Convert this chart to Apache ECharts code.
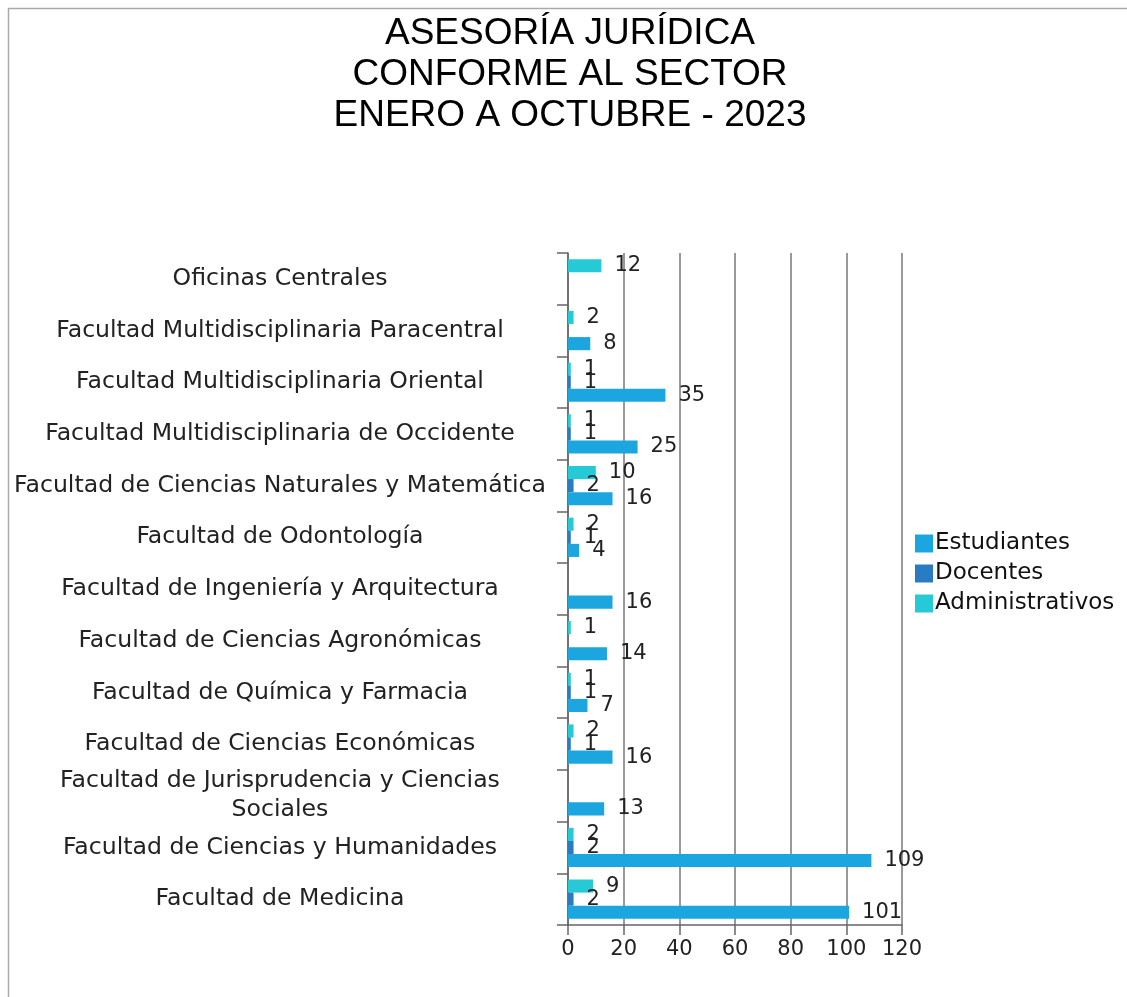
<!DOCTYPE html>
<html>
<head>
<meta charset="utf-8">
<script src="https://cdn.jsdelivr.net/npm/echarts@6/dist/echarts.min.js"></script>
<style>
  html, body { margin: 0; padding: 0; background: #fff; }
  #main { width: 1127px; height: 997px; }
</style>
</head>
<body>
<div id="main"></div>
<script>
// categorias de abajo hacia arriba (el eje y de ECharts empieza abajo)
var categorias = [
    'Facultad de Medicina',
    'Facultad de Ciencias y Humanidades',
    'Facultad de Jurisprudencia y Ciencias\nSociales',
    'Facultad de Ciencias Económicas',
    'Facultad de Química y Farmacia',
    'Facultad de Ciencias Agronómicas',
    'Facultad de Ingeniería y Arquitectura',
    'Facultad de Odontología',
    'Facultad de Ciencias Naturales y Matemática',
    'Facultad Multidisciplinaria de Occidente',
    'Facultad Multidisciplinaria Oriental',
    'Facultad Multidisciplinaria Paracentral',
    'Oficinas Centrales'
];
var estudiantes = [101, 109, 13, 16, 7, 14, 16, 4, 16, 25, 35, 8, null];
var docentes = [2, 2, null, 1, 1, null, null, 1, 2, 1, 1, null, null];
var administrativos = [9, 2, null, 2, 1, 1, null, 2, 10, 1, 1, 2, 12];
var ticksX = [0, 20, 40, 60, 80, 100, 120];

var fuente = '"DejaVu Sans", sans-serif';

var myChart = echarts.init(document.getElementById('main'));

function serie(nombre, datos, color) {
    return {
        name: nombre,
        type: 'bar',
        data: datos,
        barGap: '0%',
        barCategoryGap: '24%',
        itemStyle: {color: color},
        label: {
            show: true,
            position: 'right',
            distance: 13,
            color: '#222',
            fontSize: 21,
            fontFamily: fuente
        }
    };
}

var option = {
    animation: false,
    title: {
        text: 'ASESORÍA JURÍDICA\nCONFORME AL SECTOR\nENERO A OCTUBRE - 2023',
        left: 565,
        textAlign: 'center',
        top: 8,
        textStyle: {
            fontFamily: '"Liberation Sans", Arial, sans-serif',
            fontSize: 37,
            fontWeight: 'normal',
            color: '#000',
            lineHeight: 41
        }
    },
    legend: {
        orient: 'vertical',
        left: 910,
        top: 527,
        itemWidth: 18,
        itemHeight: 18,
        itemGap: 7,
        icon: 'rect',
        textStyle: {fontFamily: fuente, fontSize: 23, color: '#111', padding: [0, 0, 0, -3]},
        data: ['Estudiantes', 'Docentes', 'Administrativos']
    },
    grid: {
        left: 568,
        right: 225,
        top: 253,
        bottom: 72,
        containLabel: false
    },
    xAxis: {
        type: 'value',
        min: 0,
        max: 120,
        interval: 20,
        axisLine: {show: true, lineStyle: {color: '#666', width: 1.5}},
        axisTick: {show: true, length: 10, lineStyle: {color: '#666', width: 1.5}},
        splitLine: {show: true, lineStyle: {color: '#777', width: 1.5}},
        axisLabel: {
            fontFamily: fuente,
            fontSize: 21,
            color: '#222',
            margin: 14,
            formatter: function (v) { return ticksX.indexOf(v) >= 0 ? String(v) : ''; }
        }
    },
    yAxis: {
        type: 'category',
        data: categorias,
        axisLine: {show: true, lineStyle: {color: '#666', width: 1.5}},
        axisTick: {show: true, length: 11, lineStyle: {color: '#666', width: 1.5}},
        axisLabel: {
            fontFamily: fuente,
            fontSize: 23.6,
            color: '#222',
            align: 'center',
            margin: 288,
            lineHeight: 29
        }
    },
    // orden invertido para que Estudiantes quede abajo en cada grupo
    series: [
        serie('Administrativos', administrativos, '#26C9D6'),
        serie('Docentes', docentes, '#2A7CC2'),
        serie('Estudiantes', estudiantes, '#1CA6DF')
    ],
    graphic: [{
        type: 'polyline',
        shape: {points: [[8.5, 997], [8.5, 8.5], [1127, 8.5]]},
        style: {stroke: '#aaa', lineWidth: 1.5, fill: null}
    }]
};

myChart.setOption(option);
</script>
</body>
</html>
